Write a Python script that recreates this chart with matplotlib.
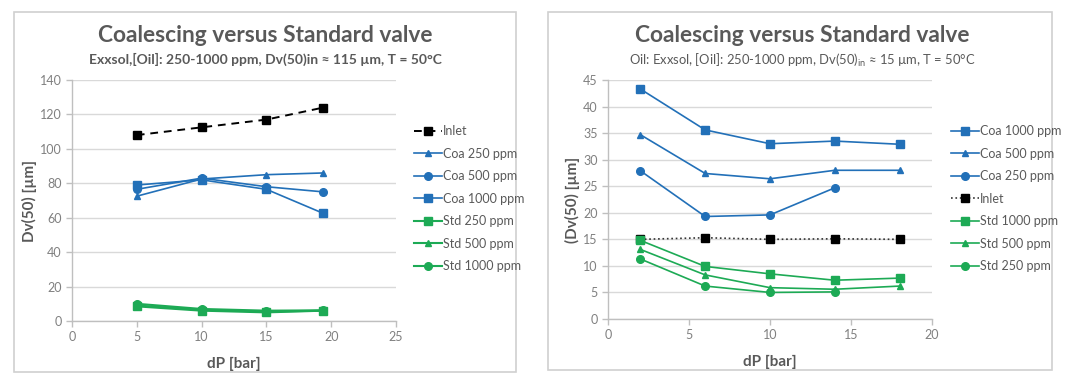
import matplotlib
matplotlib.use("Agg")
import matplotlib.pyplot as plt
from matplotlib.patches import Rectangle

plt.rcParams['font.family'] = ['Lato', 'DejaVu Sans']

BLUE = '#2270B8'
GREEN = '#1DAA55'
GRAY_T = '#595959'
GRAY_TICK = '#808080'
GRID = '#D9D9D9'

# ---- Left chart data ----
left_x = [5, 10, 15, 19.4]
left_inlet = [108, 112.5, 117, 124]
left_coa250 = [72.5, 82.5, 85, 86]
left_coa500 = [76.5, 83, 78, 75]
left_coa1000 = [79, 82, 76.5, 62.5]
left_std250 = [8.5, 6, 5, 6]
left_std500 = [9, 6.5, 5.5, 6]
left_std1000 = [10, 7, 6, 6.2]

# ---- Right chart data ----
right_x = [2, 6, 10, 14, 18]
right_coa1000 = [43.3, 35.6, 33.0, 33.5, 32.9]
right_coa500 = [34.7, 27.4, 26.4, 28.0, 28.0]
right_coa250_x = [2, 6, 10, 14]
right_coa250 = [27.9, 19.3, 19.6, 24.7]
right_inlet = [15.0, 15.3, 15.0, 15.1, 15.0]
right_std1000 = [14.8, 9.9, 8.5, 7.3, 7.7]
right_std500 = [13.1, 8.3, 5.9, 5.6, 6.2]
right_std250_x = [2, 6, 10, 14]
right_std250 = [11.3, 6.2, 5.0, 5.1]

left_xticks = [0, 5, 10, 15, 20, 25]
left_yticks = [0, 20, 40, 60, 80, 100, 120, 140]
right_xticks = [0, 5, 10, 15, 20]
right_yticks = [0, 5, 10, 15, 20, 25, 30, 35, 40, 45]

fig = plt.figure(figsize=(10.8, 3.84), dpi=100)

W, H = 1080, 384
def fx(px): return px / W
def fy(py): return 1 - py / H

# panel frames
for (x0, y0, x1, y1) in [(14, 12, 516, 372), (548, 12, 1052, 370)]:
    fig.patches.append(Rectangle((fx(x0), fy(y1)), fx(x1 - x0), (y1 - y0) / H,
                                 transform=fig.transFigure, fill=False,
                                 edgecolor='#D0D0D0', linewidth=1.2))

def style_axes(ax, xlim, ylim, xticks, yticks):
    ax.set_xlim(*xlim)
    ax.set_ylim(*ylim)
    ax.set_xticks(xticks)
    ax.set_yticks(yticks)
    ax.grid(axis='y', color=GRID, linewidth=1)
    ax.set_axisbelow(True)
    for s in ['top', 'right']:
        ax.spines[s].set_visible(False)
    for s in ['left', 'bottom']:
        ax.spines[s].set_color('#BFBFBF')
        ax.spines[s].set_linewidth(1)
    ax.tick_params(axis='both', colors='#BFBFBF', labelcolor=GRAY_TICK,
                   labelsize=9, length=4, width=1)

lw = 1.2
sq = 5.2
ci = 5.5
tr = 5
# ---- Left axes ----
axL = fig.add_axes([fx(72), fy(321), fx(324), 241 / H])
style_axes(axL, (0, 25), (0, 140), left_xticks, left_yticks)
axL.plot(left_x, left_inlet, color='black', ls=(0, (4, 3)), lw=lw + 0.2, marker='s', ms=sq, label='Inlet')
axL.plot(left_x, left_coa250, color=BLUE, lw=lw, marker='^', ms=tr, label='Coa 250 ppm')
axL.plot(left_x, left_coa500, color=BLUE, lw=lw, marker='o', ms=ci, label='Coa 500 ppm')
axL.plot(left_x, left_coa1000, color=BLUE, lw=lw, marker='s', ms=sq, label='Coa 1000 ppm')
axL.plot(left_x, left_std250, color=GREEN, lw=lw + 0.3, marker='s', ms=sq, label='Std 250 ppm')
axL.plot(left_x, left_std500, color=GREEN, lw=lw + 0.3, marker='^', ms=tr, label='Std 500 ppm')
axL.plot(left_x, left_std1000, color=GREEN, lw=lw + 0.3, marker='o', ms=ci, label='Std 1000 ppm')
axL.set_xlabel('dP [bar]', fontsize=11, fontweight='bold', color=GRAY_T, labelpad=10)
axL.set_ylabel('Dv(50) [µm]', fontsize=11, fontweight='bold', color=GRAY_T, labelpad=2)
fig.legend(*axL.get_legend_handles_labels(), loc='upper left',
           bbox_to_anchor=(fx(408), fy(119)), frameon=False, fontsize=9,
           labelcolor=GRAY_T, handlelength=2.2, handletextpad=0.1,
           labelspacing=0.84, borderpad=0)

fig.text(fx(265), fy(36), 'Coalescing versus Standard valve', ha='center', va='center',
         fontsize=16.4, fontweight='bold', color=GRAY_T)
fig.text(fx(265), fy(59), 'Exxsol,[Oil]: 250-1000 ppm, Dv(50)in ≈ 115 µm, T = 50°C',
         ha='center', va='center', fontsize=10, fontweight='bold', color=GRAY_T)

# ---- Right axes ----
axR = fig.add_axes([fx(608), fy(319), fx(324), 239 / H])
style_axes(axR, (0, 20), (0, 45), right_xticks, right_yticks)
axR.plot(right_x, right_coa1000, color=BLUE, lw=lw, marker='s', ms=sq, label='Coa 1000 ppm')
axR.plot(right_x, right_coa500, color=BLUE, lw=lw, marker='^', ms=tr, label='Coa 500 ppm')
axR.plot(right_coa250_x, right_coa250, color=BLUE, lw=lw, marker='o', ms=ci, label='Coa 250 ppm')
axR.plot(right_x, right_inlet, color='#333333', ls=':', lw=1.2, marker='s', ms=sq,
         mfc='black', mec='black', label='Inlet')
axR.plot(right_x, right_std1000, color=GREEN, lw=lw, marker='s', ms=sq, label='Std 1000 ppm')
axR.plot(right_x, right_std500, color=GREEN, lw=lw, marker='^', ms=tr, label='Std 500 ppm')
axR.plot(right_std250_x, right_std250, color=GREEN, lw=lw, marker='o', ms=ci, label='Std 250 ppm')
axR.set_xlabel('dP [bar]', fontsize=11, fontweight='bold', color=GRAY_T, labelpad=10)
axR.set_ylabel('(Dv(50) [µm]', fontsize=11, fontweight='bold', color=GRAY_T, labelpad=2)
fig.legend(*axR.get_legend_handles_labels(), loc='upper left',
           bbox_to_anchor=(fx(945), fy(119)), frameon=False, fontsize=9,
           labelcolor=GRAY_T, handlelength=2.2, handletextpad=0.1,
           labelspacing=0.84, borderpad=0)

fig.text(fx(802), fy(36), 'Coalescing versus Standard valve', ha='center', va='center',
         fontsize=16.4, fontweight='bold', color=GRAY_T)
fig.text(fx(802), fy(60), r'Oil: Exxsol, [Oil]: 250-1000 ppm, Dv(50)$_{\mathregular{in}}$ ≈ 15 µm, T = 50°C',
         ha='center', va='center', fontsize=9.4, color=GRAY_T)

fig.savefig('out.png', dpi=100, facecolor='white')
